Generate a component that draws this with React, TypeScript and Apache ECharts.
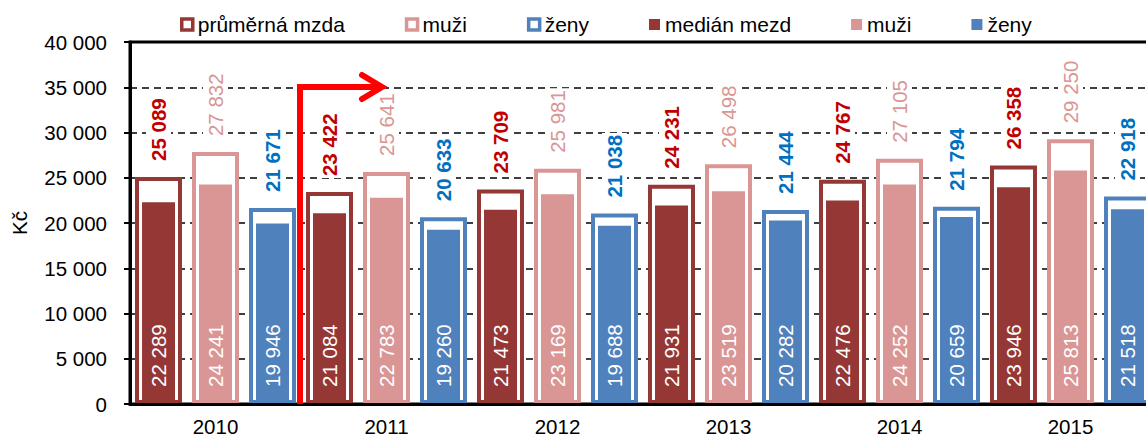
import React, { useEffect, useRef } from "react";
import * as echarts from "echarts";

const years = ["2010", "2011", "2012", "2013", "2014", "2015"];
const avgWage = [25089, 23422, 23709, 24231, 24767, 26358];
const avgMen = [27832, 25641, 25981, 26498, 27105, 29250];
const avgWomen = [21671, 20633, 21038, 21444, 21794, 22918];
const medWage = [22289, 21084, 21473, 21931, 22476, 23946];
const medMen = [24241, 22783, 23169, 23519, 24252, 25813];
const medWomen = [19946, 19260, 19688, 20282, 20659, 21518];

const C_DARK = "#953735";
const C_PINK = "#D99694";
const C_BLUE = "#4F81BD";
const FONT = 'Arial, "Liberation Sans", sans-serif';

const fmt = (v: number) => String(v).replace(/\B(?=(\d{3})+(?!\d))/g, " ");

export default function App() {
  const ref = useRef<HTMLDivElement>(null);
  useEffect(() => {
    if (!ref.current) return;
    const chart = echarts.init(ref.current, undefined, { renderer: "svg" });

    const outline = (name: string, data: number[], color: string, labelColor: string, bold: boolean) => ({
      name,
      type: "bar",
      xAxisIndex: 0,
      data,
      barWidth: 47,
      barGap: "21.3%",
      z: 2,
      itemStyle: { color: "#fff", borderColor: color, borderWidth: 4 },
      label: {
        show: true,
        position: "top",
        rotate: 90,
        align: "left",
        verticalAlign: "middle",
        distance: 14,
        color: labelColor,
        fontSize: 20.5,
        fontWeight: bold ? "bold" : "normal",
        fontFamily: FONT,
        backgroundColor: "#fff",
        padding: [2, 2, 2, 2],
        formatter: (p: any) => fmt(p.value),
      },
    });
    const inner = (name: string, data: number[], color: string) => ({
      name,
      type: "bar",
      xAxisIndex: 1,
      data,
      barWidth: 33,
      barGap: "72.7%",
      z: 3,
      itemStyle: { color },
      label: {
        show: true,
        position: "insideBottom",
        rotate: 90,
        align: "left",
        verticalAlign: "middle",
        distance: 17,
        color: "#fff",
        fontSize: 20.5,
        fontFamily: FONT,
        formatter: (p: any) => fmt(p.value),
      },
    });

    chart.setOption({
      animation: false,
      textStyle: { fontFamily: FONT },
      grid: {
        left: 130,
        top: 42,
        width: 1026,
        height: 362,
        show: true,
        borderColor: "#000",
        borderWidth: 3,
        backgroundColor: "transparent",
      },
      legend: {
        left: 175,
        top: 9,
        itemGap: 60,
        itemWidth: 11,
        itemHeight: 11,
        icon: "rect",
        textStyle: { fontSize: 21, color: "#000", fontFamily: FONT },
        formatter: (n: string) => n.trim(),
        data: [
          { name: "průměrná mzda", itemStyle: { color: "#fff", borderColor: C_DARK, borderWidth: 3.5 } },
          { name: "muži", itemStyle: { color: "#fff", borderColor: C_PINK, borderWidth: 3.5 } },
          { name: "ženy", itemStyle: { color: "#fff", borderColor: C_BLUE, borderWidth: 3.5 } },
          { name: "medián mezd", itemStyle: { color: C_DARK, borderWidth: 0 } },
          { name: "muži ", itemStyle: { color: C_PINK, borderWidth: 0 } },
          { name: "ženy ", itemStyle: { color: C_BLUE, borderWidth: 0 } },
        ],
      },
      xAxis: [
        {
          type: "category",
          data: years,
          z: 10,
          axisLine: { lineStyle: { color: "#000", width: 3 } },
          axisTick: { length: 6, lineStyle: { color: "#000", width: 2 } },
          axisLabel: { color: "#000", fontSize: 20.5, margin: 12, fontFamily: FONT },
        },
        { type: "category", data: years, show: false },
      ],
      yAxis: {
        type: "value",
        min: 0,
        max: 40000,
        interval: 5000,
        name: "Kč",
        nameLocation: "middle",
        nameGap: 100,
        nameTextStyle: { fontSize: 20.5, color: "#000", fontFamily: FONT },
        axisLine: { show: true, lineStyle: { color: "#000", width: 3 } },
        axisTick: { show: true, length: 6, lineStyle: { color: "#000", width: 2 } },
        axisLabel: { color: "#000", fontSize: 20.5, margin: 23, fontFamily: FONT, formatter: (v: number) => fmt(v) },
        splitLine: { show: true, lineStyle: { color: "#000", type: [7, 5], width: 1.5 } },
      },
      series: [
        outline("průměrná mzda", avgWage, C_DARK, "#C00000", true),
        outline("muži", avgMen, C_PINK, C_PINK, false),
        outline("ženy", avgWomen, C_BLUE, "#0070C0", true),
        inner("medián mezd", medWage, C_DARK),
        inner("muži ", medMen, C_PINK),
        inner("ženy ", medWomen, C_BLUE),
      ],
      graphic: [
        {
          type: "polyline",
          z: 100,
          shape: { points: [[300, 404], [300, 87], [380, 87]] },
          style: { stroke: "#FF0000", lineWidth: 6, fill: null, lineJoin: "miter" },
        },
        {
          type: "polyline",
          z: 100,
          shape: { points: [[362, 75], [382, 87], [362, 99]] },
          style: { stroke: "#FF0000", lineWidth: 6, fill: null, lineCap: "round", lineJoin: "miter" },
        },
      ],
    });
    return () => chart.dispose();
  }, []);

  return (
    <div style={{ position: "fixed", left: 0, top: 0, width: 1146, height: 438, overflow: "hidden", background: "#fff" }}>
      <div ref={ref} style={{ width: 1180, height: 438 }} />
    </div>
  );
}
